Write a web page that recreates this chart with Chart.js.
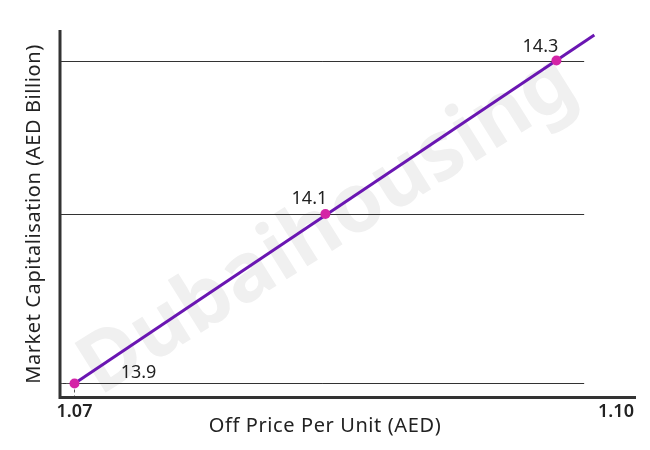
<!DOCTYPE html>
<html>
<head>
<meta charset="utf-8">
<script src="https://cdn.jsdelivr.net/npm/chart.js@4/dist/chart.umd.min.js"></script>
<style>
html,body{margin:0;padding:0;background:#fff;}
#wrap{width:650px;height:450px;position:relative;}
</style>
</head>
<body>
<div id="wrap"><canvas id="c" width="650" height="450"></canvas></div>
<script>
// Data
const offPrice = [1.07, 1.0839, 1.0967];          // Off Price Per Unit (AED)
const marketCap = [13.9, 14.11, 14.3];            // Market Capitalisation (AED Billion)
const trendX = [1.07, 1.0988];                     // trend line extension
const trendY = [13.9, 14.3316];
const xTickValues = [1.07, 1.10];
const xTickLabels = ['1.07', '1.10'];
const xTitle = 'Off Price Per Unit (AED)';
const yTitle = 'Market Capitalisation (AED Billion)';
const watermark = 'Dubaihousing';

const FONT = '"Noto Sans", "DejaVu Sans", sans-serif';
const labelOffsets = [[64, -5], [-16, -10], [-16, -9]];

const decor = {
  id: 'decor',
  beforeDatasetsDraw(chart) {
    const {ctx, chartArea: a, scales: {x, y}} = chart;
    ctx.save();
    // watermark
    ctx.save();
    ctx.translate(328, 226);
    ctx.rotate(-32 * Math.PI / 180);
    ctx.font = 'bold 82px ' + FONT;
    ctx.fillStyle = '#f0f0f0';
    ctx.textAlign = 'center';
    ctx.textBaseline = 'middle';
    ctx.fillText(watermark, 0, 0);
    ctx.restore();
    // horizontal grid lines at data values
    ctx.strokeStyle = '#333';
    ctx.lineWidth = 1;
    const gridRight = a.left + (a.right - a.left) * 0.91;
    marketCap.forEach(v => {
      const py = Math.round(y.getPixelForValue(v)) + 0.5;
      ctx.beginPath();
      ctx.moveTo(a.left, py);
      ctx.lineTo(gridRight, py);
      ctx.stroke();
    });
    // dashed guide to first point
    const px0 = x.getPixelForValue(offPrice[0]);
    const py0 = y.getPixelForValue(marketCap[0]);
    ctx.setLineDash([3, 3]);
    ctx.strokeStyle = '#555';
    ctx.beginPath();
    ctx.moveTo(a.left, Math.round(py0) + 0.5);
    ctx.lineTo(px0, Math.round(py0) + 0.5);
    ctx.moveTo(Math.round(px0) + 0.5, py0);
    ctx.lineTo(Math.round(px0) + 0.5, a.bottom);
    ctx.stroke();
    ctx.setLineDash([]);
    // axes lines
    ctx.strokeStyle = '#333';
    ctx.lineWidth = 3;
    ctx.beginPath();
    ctx.moveTo(a.left, a.top);
    ctx.lineTo(a.left, a.bottom + 1.5);
    ctx.lineTo(a.right, a.bottom + 1.5);
    ctx.stroke();
    ctx.restore();
  },
  afterDraw(chart) {
    const {ctx, chartArea: a, scales: {x, y}} = chart;
    ctx.save();
    // data labels
    ctx.font = '18px ' + FONT;
    ctx.fillStyle = '#222';
    ctx.textAlign = 'center';
    ctx.textBaseline = 'alphabetic';
    marketCap.forEach((v, i) => {
      const px = x.getPixelForValue(offPrice[i]);
      const py = y.getPixelForValue(v);
      ctx.fillText(v.toFixed(1), px + labelOffsets[i][0], py + labelOffsets[i][1]);
    });
    // x tick labels
    ctx.font = '600 18px ' + FONT;
    ctx.fillStyle = '#222';
    ctx.textBaseline = 'middle';
    xTickValues.forEach((v, i) => {
      ctx.fillText(xTickLabels[i], x.getPixelForValue(v), a.bottom + 16);
    });
    // axis titles
    ctx.font = '20px ' + FONT;
    ctx.letterSpacing = '0.6px';
    ctx.fillText(xTitle, 325, a.bottom + 30);
    ctx.save();
    ctx.translate(34, 214);
    ctx.rotate(-Math.PI / 2);
    ctx.fillText(yTitle, 0, 0);
    ctx.restore();
    ctx.restore();
  }
};

new Chart(document.getElementById('c'), {
  type: 'scatter',
  data: {
    datasets: [
      {
        label: 'trend',
        data: trendX.map((v, i) => ({x: v, y: trendY[i]})),
        showLine: true,
        borderColor: '#6a16b2',
        borderWidth: 3,
        pointRadius: 0,
        order: 2
      },
      {
        label: 'Market Capitalisation',
        data: offPrice.map((v, i) => ({x: v, y: marketCap[i]})),
        showLine: false,
        pointRadius: 5,
        pointBackgroundColor: '#d424a6',
        pointBorderWidth: 0,
        order: 1
      }
    ]
  },
  options: {
    responsive: false,
    animation: false,
    layout: {padding: {left: 60, right: 14, top: 30, bottom: 54}},
    plugins: {legend: {display: false}, tooltip: {enabled: false}},
    scales: {
      x: {type: 'linear', display: false, min: 1.069197, max: 1.101108},
      y: {type: 'linear', display: false, min: 13.8845, max: 14.3378}
    }
  },
  plugins: [decor]
});
</script>
</body>
</html>
